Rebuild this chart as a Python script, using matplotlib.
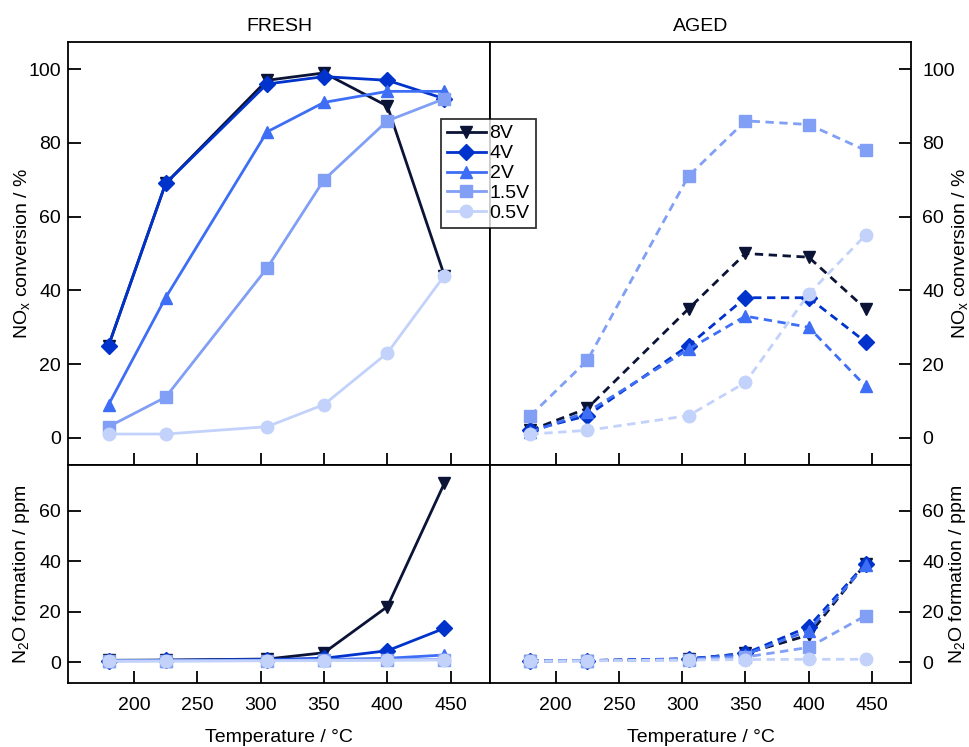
import matplotlib
matplotlib.use('Agg')
import matplotlib.pyplot as plt

plt.rcParams['font.family'] = ['Liberation Sans', 'DejaVu Sans']
plt.rcParams['mathtext.default'] = 'regular'
plt.rcParams['font.size'] = 14

temps = [180, 225, 305, 350, 400, 445]
labels = ['8V', '4V', '2V', '1.5V', '0.5V']
colors = ['#0b1437', '#0033cc', '#3d6ef5', '#809ff5', '#c2d2fb']
markers = ['v', 'D', '^', 's', 'o']

# NOx conversion / %
nox_fresh = [
    [25, 69, 97, 99, 90, 44],
    [25, 69, 96, 98, 97, 92],
    [9, 38, 83, 91, 94, 94],
    [3, 11, 46, 70, 86, 92],
    [1, 1, 3, 9, 23, 44],
]
nox_aged = [
    [2, 8, 35, 50, 49, 35],
    [2, 6, 25, 38, 38, 26],
    [1.5, 7, 24, 33, 30, 14],
    [6, 21, 71, 86, 85, 78],
    [1, 2, 6, 15, 39, 55],
]
# N2O formation / ppm
n2o_fresh = [
    [0.7, 0.8, 1.2, 3.7, 22, 71],
    [0.6, 0.7, 1.0, 1.5, 4.5, 13.4],
    [0.5, 0.6, 0.8, 1.0, 1.5, 2.8],
    [0.5, 0.5, 0.6, 0.8, 0.9, 1.0],
    [0.4, 0.4, 0.5, 0.6, 0.7, 0.8],
]
n2o_aged = [
    [0.5, 0.6, 1.2, 3.4, 10.7, 39],
    [0.5, 0.6, 1.3, 3.4, 14, 39],
    [0.5, 0.6, 1.2, 3.0, 12.5, 38.5],
    [0.4, 0.5, 0.9, 2.0, 5.8, 18.4],
    [0.4, 0.5, 0.8, 1.0, 1.1, 1.1],
]

fig = plt.figure(figsize=(9.69, 7.47), dpi=100)
ax_tl = fig.add_axes([0.0702, 0.3775, 0.4355, 0.5663])
ax_tr = fig.add_axes([0.5057, 0.3775, 0.4345, 0.5663])
ax_bl = fig.add_axes([0.0702, 0.0857, 0.4355, 0.2918])
ax_br = fig.add_axes([0.5057, 0.0857, 0.4345, 0.2918])

def draw(ax, data, ls):
    for vals, lab, c, m in zip(data, labels, colors, markers):
        ax.plot(temps, vals, color=c, marker=m, markersize=9 if m != 'D' else 8,
                linestyle=ls, linewidth=2, label=lab, dashes=(3, 2) if ls == '--' else (None, None))

draw(ax_tl, nox_fresh, '-')
draw(ax_tr, nox_aged, '--')
draw(ax_bl, n2o_fresh, '-')
draw(ax_br, n2o_aged, '--')

for ax in (ax_tl, ax_tr, ax_bl, ax_br):
    ax.set_xlim(148, 481)
    ax.set_xticks([200, 250, 300, 350, 400, 450])
    for s in ax.spines.values():
        s.set_linewidth(1.3)
    ax.tick_params(direction='in', length=9, width=1.3, labelsize=14)

for ax in (ax_tl, ax_tr):
    ax.set_ylim(-7.4, 107.4)
    ax.set_yticks([0, 20, 40, 60, 80, 100])
    ax.tick_params(axis='x', labelbottom=False)
    ax.set_ylabel('NO$_x$ conversion / %', fontsize=14)
for ax in (ax_bl, ax_br):
    ax.set_ylim(-8.3, 78.2)
    ax.set_yticks([0, 20, 40, 60])
    ax.set_ylabel('N$_2$O formation / ppm', fontsize=14)
    ax.set_xlabel('Temperature / °C', fontsize=14, labelpad=11)
    ax.tick_params(axis='x', pad=10)

for ax in (ax_tr, ax_br):
    ax.yaxis.tick_right()
    ax.yaxis.set_label_position('right')
    ax.tick_params(axis='y', direction='in', length=9, width=1.3, pad=8)
ax_tr.yaxis.set_label_coords(1.093, 0.5)
ax_br.yaxis.set_label_coords(1.086, 0.5)
for ax in (ax_tl, ax_bl):
    ax.tick_params(axis='y', pad=5)
    ax.yaxis.set_label_coords(-0.085, 0.5)

ax_tl.set_title('FRESH', fontsize=14, pad=8)
ax_tr.set_title('AGED', fontsize=14, pad=8)

handles, labs = ax_tl.get_legend_handles_labels()
leg = fig.legend(handles, labs, loc='upper left', bbox_to_anchor=(441 / 969, 1 - 119 / 747),
                 frameon=True, fancybox=False, edgecolor='black', fontsize=14,
                 handlelength=2.0, handletextpad=0.2, borderpad=0.3, labelspacing=0.12,
                 borderaxespad=0)
leg.get_frame().set_linewidth(1.3)

fig.savefig('out.png', dpi=100)
